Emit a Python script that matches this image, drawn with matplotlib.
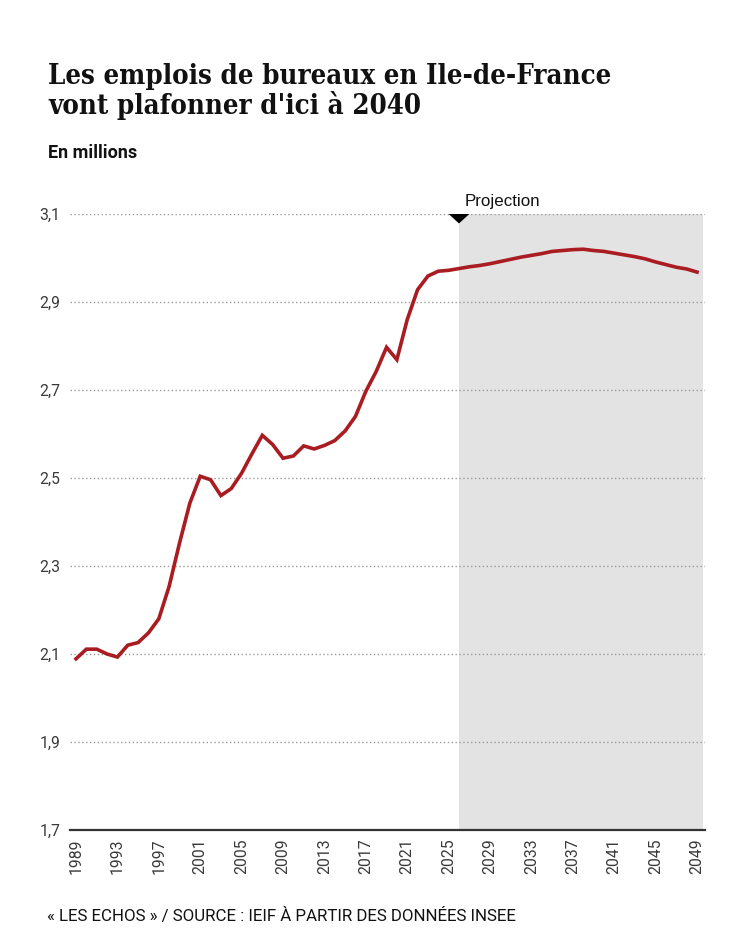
import matplotlib
matplotlib.use("Agg")
import matplotlib.pyplot as plt
from matplotlib.patches import Polygon

years = list(range(1989, 2050))
values = [
    2.089, 2.111, 2.111, 2.100, 2.093, 2.120, 2.126, 2.148, 2.180, 2.254,  # 1989-1998
    2.352, 2.443, 2.504, 2.496, 2.460, 2.476, 2.511, 2.555, 2.597, 2.576,  # 1999-2008
    2.545, 2.550, 2.573, 2.566, 2.574, 2.585, 2.607, 2.640, 2.697, 2.742,  # 2009-2018
    2.797, 2.769, 2.860, 2.928, 2.959, 2.970, 2.972, 2.976, 2.980, 2.983,  # 2019-2028
    2.987, 2.992, 2.997, 3.002, 3.006, 3.010, 3.015, 3.017, 3.019, 3.020,  # 2029-2038
    3.017, 3.015, 3.011, 3.007, 3.003, 2.998, 2.991, 2.985, 2.979, 2.975,  # 2039-2048
    2.968,                                                                 # 2049
]
y_ticks = [1.7, 1.9, 2.1, 2.3, 2.5, 2.7, 2.9, 3.1]
y_tick_labels = ["1,7", "1,9", "2,1", "2,3", "2,5", "2,7", "2,9", "3,1"]
x_ticks = list(range(1989, 2050, 4))
projection_start = 2026

title_lines = ["Les emplois de bureaux en Ile-de-France", "vont plafonner d'ici à 2040"]
subtitle = "En millions"
source = "« LES ECHOS » / SOURCE : IEIF À PARTIR DES DONNÉES INSEE"

W, H = 750, 938
fig = plt.figure(figsize=(W / 100, H / 100), dpi=100)
fig.patch.set_facecolor("white")

ax = fig.add_axes([70 / W, 1 - 830 / H, (705 - 70) / W, (830 - 214) / H])
ax.set_xlim(1988.42, 2049.77)
ax.set_ylim(1.7, 3.1)

ax.axvspan(projection_start, 2049.6, color="#e3e3e3", lw=0, zorder=0)

for yv in y_ticks[1:]:
    ax.axhline(yv, color="#9a9a9a", lw=1.0, ls=(0, (1, 1.8)), zorder=1)
ax.axhline(1.7, color="#333333", lw=1.6, zorder=3, clip_on=False)

ax.plot(years, values, color="#a91c21", lw=2.6, solid_joinstyle="miter", zorder=4)

tri_w = 1.0
tri_h = 0.0215
ax.add_patch(Polygon([(projection_start - tri_w, 3.1), (projection_start + tri_w, 3.1),
                      (projection_start, 3.1 - tri_h)], closed=True,
                     facecolor="black", edgecolor="none", zorder=5, clip_on=False))
ax.text(projection_start + 0.5, 3.1 + 0.018, "Projection", fontsize=12.2,
        family="Liberation Sans", color="#111111", ha="left", va="baseline")

for s in ax.spines.values():
    s.set_visible(False)
ax.set_yticks(y_ticks)
ax.set_yticklabels(y_tick_labels, family="Roboto", fontsize=11.3, color="#3a3a3a")
ax.set_xticks(x_ticks)
ax.set_xticklabels([str(x) for x in x_ticks], rotation=90, family="Roboto",
                   fontsize=11.3, color="#3a3a3a")
ax.tick_params(axis="both", length=0)
ax.tick_params(axis="y", pad=7)
ax.tick_params(axis="x", pad=6)

fig.text(48 / W, 1 - 84.5 / H, title_lines[0], family="DejaVu Serif", fontweight="bold",
         fontstretch="condensed", fontsize=19.8, color="#111111", ha="left", va="baseline")
fig.text(48 / W, 1 - 113.5 / H, title_lines[1], family="DejaVu Serif", fontweight="bold",
         fontstretch="condensed", fontsize=19.8, color="#111111", ha="left", va="baseline")
fig.text(48 / W, 1 - 158.5 / H, subtitle, family="Roboto", fontweight="bold",
         fontsize=13, color="#111111", ha="left", va="baseline")
fig.text(47 / W, 1 - 921 / H, source, family="Roboto", fontsize=12.2,
         color="#111111", ha="left", va="baseline")

fig.savefig("out.png", dpi=100, facecolor="white")
